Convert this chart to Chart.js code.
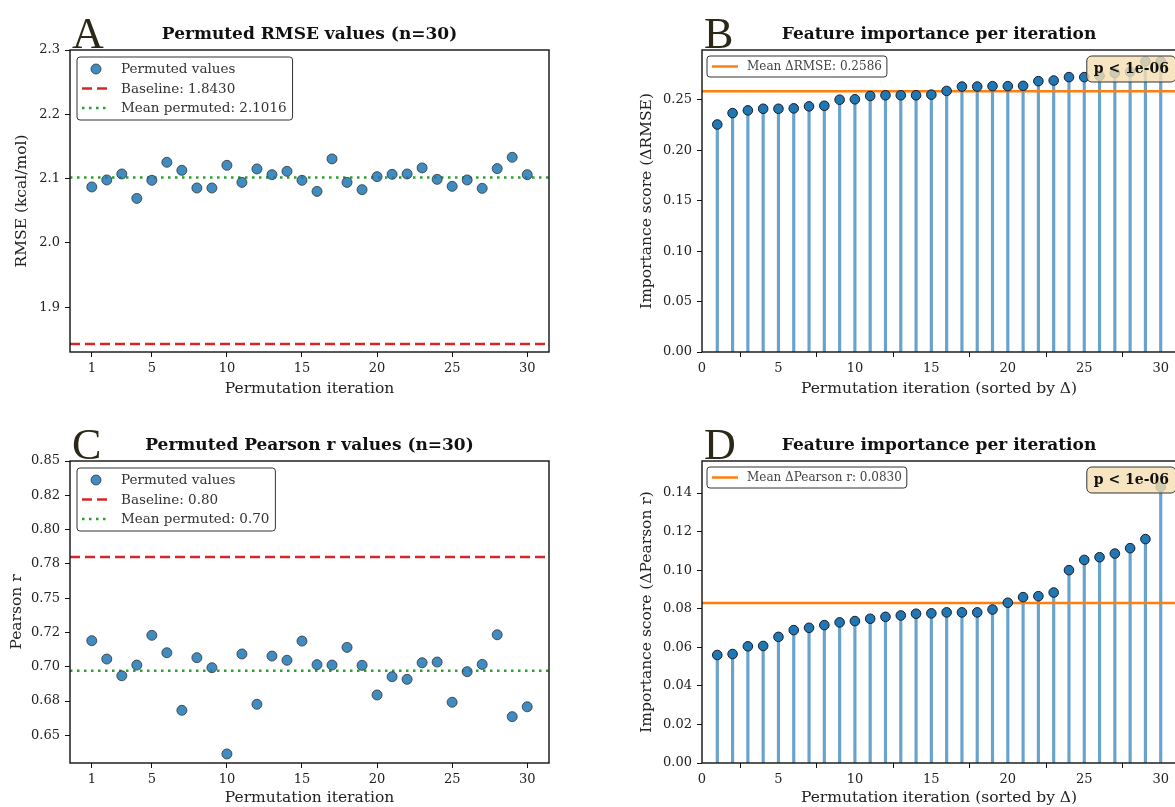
<!DOCTYPE html>
<html>
<head>
<meta charset="utf-8">
<script src="https://cdn.jsdelivr.net/npm/chart.js@4.4.1/dist/chart.umd.min.js"></script>
<style>
  html, body { margin: 0; padding: 0; background: #fff; overflow: hidden; }
  body { width: 1175px; height: 807px; position: relative; }
  canvas { position: absolute; }
</style>
</head>
<body>
<canvas id="chartA" width="590" height="404" style="left:0;top:0"></canvas>
<canvas id="chartB" width="590" height="404" style="left:595px;top:0"></canvas>
<canvas id="chartC" width="590" height="397" style="left:0;top:410px"></canvas>
<canvas id="chartD" width="590" height="397" style="left:595px;top:410px"></canvas>
<script>
// permutation runs
const iterations = [1, 2, 3, 4, 5, 6, 7, 8, 9, 10, 11, 12, 13, 14, 15,
  16, 17, 18, 19, 20, 21, 22, 23, 24, 25, 26, 27, 28, 29, 30];

// RMSE of each permuted run
const rmsePermuted = [2.0871, 2.0980, 2.1073, 2.0693, 2.0974, 2.1254, 2.1129, 2.0855, 2.0855, 2.1207,
  2.0942, 2.1151, 2.1062, 2.1114, 2.0974, 2.0802, 2.1307, 2.0942, 2.0829, 2.1031,
  2.1067, 2.1073, 2.1167, 2.0989, 2.0880, 2.0980, 2.0849, 2.1156, 2.1332, 2.1062];
const rmseBaseline = 1.8430;
const rmseMeanPermuted = 2.1016;

// Pearson r of each permuted run
const pearsonPermuted = [0.7190, 0.7056, 0.6934, 0.7012, 0.7229, 0.7102, 0.6682, 0.7066, 0.6993, 0.6364,
  0.7093, 0.6726, 0.7078, 0.7047, 0.7187, 0.7015, 0.7012, 0.7141, 0.7010, 0.6794,
  0.6927, 0.6908, 0.7029, 0.7034, 0.6741, 0.6964, 0.7017, 0.7233, 0.6636, 0.6708];
const pearsonBaseline = 0.780;
const pearsonMeanPermuted = 0.697;

// importance (delta vs baseline), sorted ascending
const deltaRmse = [0.2257, 0.2370, 0.2397, 0.2413, 0.2413, 0.2417, 0.2437, 0.2443, 0.2503, 0.2507,
  0.2540, 0.2547, 0.2547, 0.2547, 0.2553, 0.2590, 0.2633, 0.2633, 0.2637, 0.2637,
  0.2640, 0.2687, 0.2693, 0.2727, 0.2727, 0.2740, 0.2767, 0.2780, 0.2883, 0.2883];
const deltaRmseMean = 0.2586;

const deltaPearson = [0.0560, 0.0565, 0.0605, 0.0607, 0.0654, 0.0689, 0.0701, 0.0715, 0.0729, 0.0736,
  0.0748, 0.0758, 0.0765, 0.0774, 0.0776, 0.0781, 0.0781, 0.0781, 0.0796, 0.0831,
  0.0860, 0.0865, 0.0884, 0.1000, 0.1053, 0.1067, 0.1086, 0.1114, 0.1161, 0.1432];
const deltaPearsonMean = 0.0830;

const pValueText = 'p < 1e-06';

// tick positions and labels
const iterTicks = [1, 5, 10, 15, 20, 25, 30];
const rankTicks = [0, 5, 10, 15, 20, 25, 30];
const rmseTicks = [1.9, 2.0, 2.1, 2.2, 2.3];
const rmseTickLabels = ['1.9', '2.0', '2.1', '2.2', '2.3'];
const pearsonTicks = [0.65, 0.675, 0.70, 0.725, 0.75, 0.775, 0.80, 0.825, 0.85];
const pearsonTickLabels = ['0.65', '0.68', '0.70', '0.72', '0.75', '0.78', '0.80', '0.82', '0.85'];
const dRmseTicks = [0, 0.05, 0.10, 0.15, 0.20, 0.25];
const dRmseTickLabels = ['0.00', '0.05', '0.10', '0.15', '0.20', '0.25'];
const dPearsonTicks = [0, 0.02, 0.04, 0.06, 0.08, 0.10, 0.12, 0.14];
const dPearsonTickLabels = ['0.00', '0.02', '0.04', '0.06', '0.08', '0.10', '0.12', '0.14'];

const SERIF = '"DejaVu Serif", serif';
const tickFont = { family: SERIF, size: 13 };
const axisFont = { family: SERIF, size: 15.5 };
const C0 = '#1f77b4';

// one decimal, shown with two (as in the legend of the Pearson panel)
const fmt1 = v => (Math.round(v * 10) / 10).toFixed(2);

function scales(o) {
  return {
    x: {
      type: 'linear', min: o.xMin, max: o.xMax, offset: false,
      afterBuildTicks: s => { s.ticks = o.xTicks.map(v => ({ value: v })); },
      afterFit: s => { s.height = o.xHeight; },
      grid: { drawOnChartArea: false, drawTicks: true, tickLength: 5, color: '#111', lineWidth: 1 },
      border: { display: false },
      ticks: { font: tickFont, color: '#222', padding: 4, maxRotation: 0, autoSkip: false, callback: v => String(v) },
      title: { display: true, text: o.xTitle, font: axisFont, color: '#222', padding: { top: 0, bottom: o.xTitlePad } }
    },
    y: {
      type: 'linear', min: o.yMin, max: o.yMax,
      afterBuildTicks: s => { s.ticks = o.yTicks.map(v => ({ value: v })); },
      afterFit: s => { s.width = o.yWidth; },
      grid: { drawOnChartArea: false, drawTicks: true, tickLength: 5, color: '#111', lineWidth: 1 },
      border: { display: false },
      ticks: { font: tickFont, color: '#222', padding: 5, autoSkip: false, callback: (v, i) => o.yLabels[i] },
      title: { display: true, text: o.yTitle, font: axisFont, color: '#222', padding: { top: o.yTitlePad, bottom: 0 } }
    }
  };
}

function drawLegend(chart, L) {
  const { ctx, chartArea: a } = chart;
  const items = chart.data.datasets.filter(d => d.label);
  ctx.font = L.font;
  const textW = Math.max(...items.map(d => ctx.measureText(d.label).width));
  const x = a.left + L.dx, y = a.top + L.dy;
  const w = L.textX + textW + L.padR, h = L.padT * 2 + L.rowH * (items.length - 1);
  ctx.beginPath();
  ctx.roundRect(x, y, w, h, 3);
  ctx.fillStyle = 'rgba(255,255,255,0.85)';
  ctx.fill();
  ctx.strokeStyle = '#333';
  ctx.lineWidth = 1;
  ctx.stroke();
  items.forEach((d, i) => {
    const cy = y + L.padT + i * L.rowH;
    ctx.beginPath();
    if (d.showLine) {
      ctx.setLineDash(d.borderDash || []);
      ctx.strokeStyle = d.borderColor;
      ctx.lineWidth = d.borderWidth;
      ctx.moveTo(x + L.h0, cy);
      ctx.lineTo(x + L.h1, cy);
      ctx.stroke();
      ctx.setLineDash([]);
    } else {
      ctx.arc(x + (L.h0 + L.h1) / 2, cy, d.pointRadius, 0, 2 * Math.PI);
      ctx.fillStyle = d.backgroundColor;
      ctx.fill();
      ctx.strokeStyle = d.borderColor;
      ctx.lineWidth = d.borderWidth;
      ctx.stroke();
    }
    ctx.fillStyle = L.color;
    ctx.textAlign = 'left';
    ctx.textBaseline = 'middle';
    ctx.fillText(d.label, x + L.textX, cy + 0.5);
  });
}

// frame, panel letter, title, legend and p-value box
const panelDecor = {
  id: 'panel',
  afterDraw(chart, args, opts) {
    const { ctx, chartArea: a } = chart;
    ctx.save();
    ctx.strokeStyle = '#111';
    ctx.lineWidth = 1.4;
    ctx.strokeRect(a.left, a.top, a.right - a.left, a.bottom - a.top);

    ctx.fillStyle = '#2c2817';
    ctx.font = '44px "Liberation Serif", serif';
    ctx.textAlign = 'left';
    ctx.textBaseline = 'alphabetic';
    ctx.fillText(opts.letter, a.left + 2, a.top - 2);

    ctx.fillStyle = '#111';
    ctx.font = 'bold 17px ' + SERIF;
    ctx.textAlign = 'center';
    ctx.textBaseline = 'middle';
    ctx.fillText(opts.title, (a.left + a.right) / 2, a.top - 15);

    drawLegend(chart, opts.legend);

    if (opts.pText) {
      ctx.font = 'bold 14px ' + SERIF;
      const tw = ctx.measureText(opts.pText).width;
      const bw = tw + 14, bh = 26;
      const bx = a.right - bw, by = a.top + 6;
      ctx.beginPath();
      ctx.roundRect(bx, by, bw, bh, 5);
      ctx.fillStyle = 'rgba(245,222,179,0.82)';
      ctx.fill();
      ctx.strokeStyle = '#333';
      ctx.lineWidth = 1;
      ctx.stroke();
      ctx.fillStyle = '#111';
      ctx.textAlign = 'left';
      ctx.textBaseline = 'middle';
      ctx.fillText(opts.pText, bx + 7, by + bh / 2 + 0.5);
    }
    ctx.restore();
  }
};

const bigLegend = { dx: 7, dy: 7, padT: 12, rowH: 19.5, h0: 5, h1: 33, textX: 44, padR: 6, font: '13.5px ' + SERIF, color: '#333' };
const smallLegend = { dx: 5, dy: 6, padT: 10.5, rowH: 0, h0: 5, h1: 31, textX: 40, padR: 5, font: '12px ' + SERIF, color: '#444' };

function permutedChart(id, o) {
  const xMin = -0.45, xMax = 31.45;
  return new Chart(document.getElementById(id), {
    type: 'scatter',
    data: {
      datasets: [
        {
          label: 'Permuted values',
          data: iterations.map((x, i) => ({ x, y: o.values[i] })),
          pointRadius: 5, backgroundColor: 'rgba(31,119,180,0.85)', borderColor: '#333', borderWidth: 0.8, order: 0
        },
        {
          label: o.baseLabel, showLine: true,
          data: [{ x: xMin, y: o.baseline }, { x: xMax, y: o.baseline }],
          borderColor: '#d62728', borderWidth: 2.5, borderDash: [10, 5], pointRadius: 0, order: 2
        },
        {
          label: o.meanLabel, showLine: true,
          data: [{ x: xMin, y: o.mean }, { x: xMax, y: o.mean }],
          borderColor: '#2ca02c', borderWidth: 2.5, borderDash: [2.5, 4.5], pointRadius: 0, order: 1
        }
      ]
    },
    options: {
      responsive: false, animation: false, devicePixelRatio: 1, events: [],
      layout: { padding: { left: 0, top: o.top, right: 41, bottom: 0 } },
      scales: scales({
        xMin, xMax, xTicks: iterTicks, xHeight: o.xHeight, xTitle: 'Permutation iteration', xTitlePad: o.xTitlePad,
        yMin: o.yMin, yMax: o.yMax, yTicks: o.yTicks, yLabels: o.yLabels, yWidth: 70, yTitle: o.yTitle, yTitlePad: o.yTitlePad
      }),
      plugins: {
        legend: { display: false }, tooltip: { enabled: false },
        panel: { letter: o.letter, title: o.title, legend: bigLegend }
      }
    },
    plugins: [panelDecor]
  });
}

function importanceChart(id, o) {
  const xMin = 0, xMax = 31;
  const pts = iterations.map((x, i) => ({ x, y: o.values[i] }));
  return new Chart(document.getElementById(id), {
    type: 'scatter',
    data: {
      datasets: [
        { type: 'bar', data: pts, barThickness: 2.5, backgroundColor: 'rgba(31,119,180,0.68)', order: 2 },
        { data: pts, pointRadius: 4.8, backgroundColor: C0, borderColor: '#1b1b2b', borderWidth: 1, order: 0 },
        {
          label: o.meanLabel, showLine: true,
          data: [{ x: xMin, y: o.mean }, { x: xMax, y: o.mean }],
          borderColor: '#ff7f0e', borderWidth: 2.5, pointRadius: 0, order: 1
        }
      ]
    },
    options: {
      responsive: false, animation: false, devicePixelRatio: 1, events: [],
      layout: { padding: { left: 0, top: o.top, right: 9, bottom: 0 } },
      scales: scales({
        xMin, xMax, xTicks: rankTicks, xHeight: o.xHeight, xTitle: 'Permutation iteration (sorted by Δ)', xTitlePad: o.xTitlePad,
        yMin: 0, yMax: o.yMax, yTicks: o.yTicks, yLabels: o.yLabels, yWidth: 107, yTitle: o.yTitle, yTitlePad: 42.5
      }),
      plugins: {
        legend: { display: false }, tooltip: { enabled: false },
        panel: { letter: o.letter, title: 'Feature importance per iteration', legend: smallLegend, pText: pValueText }
      }
    },
    plugins: [panelDecor]
  });
}

permutedChart('chartA', {
  letter: 'A', title: 'Permuted RMSE values (n=30)', values: rmsePermuted,
  baseline: rmseBaseline, mean: rmseMeanPermuted,
  baseLabel: 'Baseline: ' + rmseBaseline.toFixed(4), meanLabel: 'Mean permuted: ' + rmseMeanPermuted.toFixed(4),
  yMin: 1.8305, yMax: 2.3, yTicks: rmseTicks, yLabels: rmseTickLabels, yTitle: 'RMSE (kcal/mol)', yTitlePad: 12.5,
  top: 50, xHeight: 52, xTitlePad: 5.5
});

importanceChart('chartB', {
  letter: 'B', values: deltaRmse, mean: deltaRmseMean,
  meanLabel: 'Mean ΔRMSE: ' + deltaRmseMean.toFixed(4),
  yMax: 0.2996, yTicks: dRmseTicks, yLabels: dRmseTickLabels, yTitle: 'Importance score (ΔRMSE)',
  top: 50, xHeight: 52, xTitlePad: 5.5
});

permutedChart('chartC', {
  letter: 'C', title: 'Permuted Pearson r values (n=30)', values: pearsonPermuted,
  baseline: pearsonBaseline, mean: pearsonMeanPermuted,
  baseLabel: 'Baseline: ' + fmt1(pearsonBaseline), meanLabel: 'Mean permuted: ' + fmt1(pearsonMeanPermuted),
  yMin: 0.6298, yMax: 0.8500, yTicks: pearsonTicks, yLabels: pearsonTickLabels, yTitle: 'Pearson r', yTitlePad: 7.5,
  top: 51, xHeight: 44, xTitlePad: 0
});

importanceChart('chartD', {
  letter: 'D', values: deltaPearson, mean: deltaPearsonMean,
  meanLabel: 'Mean ΔPearson r: ' + deltaPearsonMean.toFixed(4),
  yMax: 0.1566, yTicks: dPearsonTicks, yLabels: dPearsonTickLabels, yTitle: 'Importance score (ΔPearson r)',
  top: 51, xHeight: 44, xTitlePad: 0
});
</script>
</body>
</html>
